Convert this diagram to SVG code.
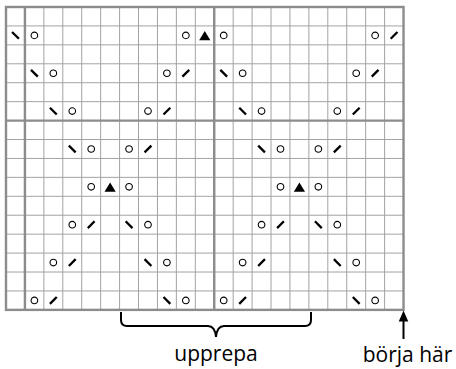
<svg xmlns="http://www.w3.org/2000/svg" xmlns:xlink="http://www.w3.org/1999/xlink" width="456" height="369" viewBox="0 0 456 369">
<style>
.thin{stroke:#a3a3a3;stroke-width:1;fill:none}
.thick{stroke:#8c8c8c;stroke-width:2.4;fill:none}
.sl{stroke:#000;stroke-width:2.3;stroke-linecap:butt}
.yo{fill:none;stroke:#000;stroke-width:1.1}
.lbl{font-family:"Open Sans","DejaVu Sans",sans-serif;font-size:21px;fill:#000;text-anchor:middle}
</style>
<defs>
<line id="bs" class="sl" x1="-3.4" y1="-3.4" x2="3.4" y2="3.4"/>
<line id="fs" class="sl" x1="-3.4" y1="3.4" x2="3.4" y2="-3.4"/>
<circle id="yo" class="yo" r="3.3"/>
<polygon id="tri" points="0,-4.4 5.6,4.8 -5.6,4.8" fill="#000"/>
</defs>
<rect x="0" y="0" width="456" height="369" fill="#fff"/>
<g id="grid">
<path class="thin" d="M43.86,7V309.88M62.79,7V309.88M81.72,7V309.88M100.65,7V309.88M119.58,7V309.88M138.51,7V309.88M157.44,7V309.88M176.37,7V309.88M195.3,7V309.88M233.16,7V309.88M252.09,7V309.88M271.02,7V309.88M289.95,7V309.88M308.88,7V309.88M327.81,7V309.88M346.74,7V309.88M365.67,7V309.88M384.6,7V309.88M6,25.93H403.53M6,44.86H403.53M6,63.79H403.53M6,82.72H403.53M6,101.65H403.53M6,139.51H403.53M6,158.44H403.53M6,177.37H403.53M6,196.3H403.53M6,215.23H403.53M6,234.16H403.53M6,253.09H403.53M6,272.02H403.53M6,290.95H403.53"/>
<path class="thick" d="M24.93,7V309.88M214.23,7V309.88M6,120.58H403.53"/>
<rect class="thick" x="6" y="7" width="397.53" height="302.88"/>
</g>
<g id="row1">
<use xlink:href="#bs" x="15.47" y="35.4"/><use xlink:href="#yo" x="34.4" y="35.4"/>
<use xlink:href="#yo" x="185.84" y="35.4"/><use xlink:href="#tri" x="204.77" y="35.4"/><use xlink:href="#yo" x="223.7" y="35.4"/>
<use xlink:href="#yo" x="375.14" y="35.4"/><use xlink:href="#fs" x="394.07" y="35.4"/>
</g>
<g id="row3">
<use xlink:href="#bs" x="34.4" y="73.26"/><use xlink:href="#yo" x="53.33" y="73.26"/>
<use xlink:href="#yo" x="166.91" y="73.26"/><use xlink:href="#fs" x="185.84" y="73.26"/>
<use xlink:href="#bs" x="223.7" y="73.26"/><use xlink:href="#yo" x="242.63" y="73.26"/>
<use xlink:href="#yo" x="356.21" y="73.26"/><use xlink:href="#fs" x="375.14" y="73.26"/>
</g>
<g id="row5">
<use xlink:href="#bs" x="53.33" y="111.12"/><use xlink:href="#yo" x="72.26" y="111.12"/>
<use xlink:href="#yo" x="147.98" y="111.12"/><use xlink:href="#fs" x="166.91" y="111.12"/>
<use xlink:href="#bs" x="242.63" y="111.12"/><use xlink:href="#yo" x="261.56" y="111.12"/>
<use xlink:href="#yo" x="337.28" y="111.12"/><use xlink:href="#fs" x="356.21" y="111.12"/>
</g>
<g id="row7">
<use xlink:href="#bs" x="72.26" y="148.98"/><use xlink:href="#yo" x="91.19" y="148.98"/>
<use xlink:href="#yo" x="129.05" y="148.98"/><use xlink:href="#fs" x="147.98" y="148.98"/>
<use xlink:href="#bs" x="261.56" y="148.98"/><use xlink:href="#yo" x="280.49" y="148.98"/>
<use xlink:href="#yo" x="318.35" y="148.98"/><use xlink:href="#fs" x="337.28" y="148.98"/>
</g>
<g id="row9">
<use xlink:href="#yo" x="91.19" y="186.84"/><use xlink:href="#tri" x="110.12" y="186.84"/><use xlink:href="#yo" x="129.05" y="186.84"/>
<use xlink:href="#yo" x="280.49" y="186.84"/><use xlink:href="#tri" x="299.42" y="186.84"/><use xlink:href="#yo" x="318.35" y="186.84"/>
</g>
<g id="row11">
<use xlink:href="#yo" x="72.26" y="224.7"/><use xlink:href="#fs" x="91.19" y="224.7"/>
<use xlink:href="#bs" x="129.05" y="224.7"/><use xlink:href="#yo" x="147.98" y="224.7"/>
<use xlink:href="#yo" x="261.56" y="224.7"/><use xlink:href="#fs" x="280.49" y="224.7"/>
<use xlink:href="#bs" x="318.35" y="224.7"/><use xlink:href="#yo" x="337.28" y="224.7"/>
</g>
<g id="row13">
<use xlink:href="#yo" x="53.33" y="262.56"/><use xlink:href="#fs" x="72.26" y="262.56"/>
<use xlink:href="#bs" x="147.98" y="262.56"/><use xlink:href="#yo" x="166.91" y="262.56"/>
<use xlink:href="#yo" x="242.63" y="262.56"/><use xlink:href="#fs" x="261.56" y="262.56"/>
<use xlink:href="#bs" x="337.28" y="262.56"/><use xlink:href="#yo" x="356.21" y="262.56"/>
</g>
<g id="row15">
<use xlink:href="#yo" x="34.4" y="300.42"/><use xlink:href="#fs" x="53.33" y="300.42"/>
<use xlink:href="#bs" x="166.91" y="300.42"/><use xlink:href="#yo" x="185.84" y="300.42"/>
<use xlink:href="#yo" x="223.7" y="300.42"/><use xlink:href="#fs" x="242.63" y="300.42"/>
<use xlink:href="#bs" x="356.21" y="300.42"/><use xlink:href="#yo" x="375.14" y="300.42"/>
</g>
<g id="repeat">
<path d="M121,312V320Q121,326 127,326H208Q215,326 216,337Q217,326 224,326H305Q311,326 311,320V312" fill="none" stroke="#000" stroke-width="2"/>
<text class="lbl" x="216" y="360.5">upprepa</text>
</g>
<g id="start">
<line x1="403.5" y1="339" x2="403.5" y2="318" stroke="#000" stroke-width="2"/>
<polygon points="403.5,310.5 398.7,321.5 408.3,321.5" fill="#000"/>
<text class="lbl" x="407.5" y="361.5">börja här</text>
</g>
</svg>
